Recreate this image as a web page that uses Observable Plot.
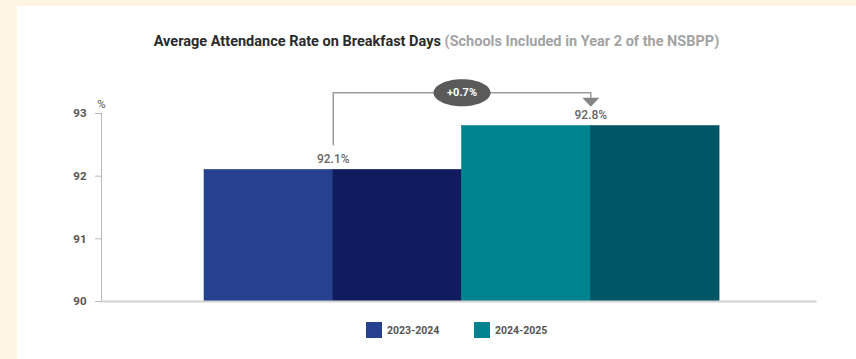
<!DOCTYPE html>
<html><head><meta charset="utf-8">
<script src="https://cdn.jsdelivr.net/npm/d3@7"></script>
<script src="https://cdn.jsdelivr.net/npm/@observablehq/plot@0.6"></script>
<style>
html,body{margin:0;padding:0}
body{background:#fef5e4;width:856px;height:359px;overflow:hidden;position:relative;font-family:Roboto,"Noto Sans",sans-serif}
#panel{position:absolute;left:17px;top:6px;right:0;bottom:0;background:#fff}
#title{position:absolute;left:17px;right:0;top:33px;text-align:center;font-size:14.5px;font-weight:700;color:#2b2b2b;white-space:nowrap}
#title span{color:#a3a3a3}
#chart{position:absolute;left:0;top:0}
#legend{position:absolute;left:366px;top:322px;display:flex;align-items:center;font-size:10.5px;font-weight:700;color:#555}
#legend .item{display:flex;align-items:center;width:108px}
#legend .sw{width:16px;height:16px;margin-right:5px}
</style>
</head><body>
<div id="panel"></div>
<div id="title">Average Attendance Rate on Breakfast Days <span>(Schools Included in Year 2 of the NSBPP)</span></div>
<div id="chart"></div>
<div id="legend"></div>
<script>
const years = ["2023-2024", "2024-2025"];
const rates = [92.1, 92.8];
const shades = [["#26418f", "#111c5f"], ["#00838e", "#005664"]];
const yTicks = [90, 91, 92, 93];
const changeLabel = "+0.7%";

// annotation levels (in % units)
const bracketY = 93.33;
const arrowY = 93.18;

const halves = years.flatMap((year, i) => shades[i].map((fill, j) => ({year, value: rates[i], fill, slot: i * 2 + j})));
const labels = years.map((year, i) => ({year, value: rates[i], slot: i * 2 + 1, text: rates[i].toFixed(1) + "%"}));

const from = labels[0], to = labels[1];
const bracket = [
  {x: from.slot, y: from.value + 0.4},
  {x: from.slot, y: bracketY},
  {x: to.slot, y: bracketY},
  {x: to.slot, y: arrowY}
];

const triangle = {draw(ctx) { ctx.moveTo(-8.5, -4.5); ctx.lineTo(8.5, -4.5); ctx.lineTo(0, 4.5); ctx.closePath(); }};
const pill = {draw(ctx) {
  const rx = 28.5, ry = 13.5, k = 0.5523;
  ctx.moveTo(-rx, 0);
  ctx.bezierCurveTo(-rx, -ry * k, -rx * k, -ry, 0, -ry);
  ctx.bezierCurveTo(rx * k, -ry, rx, -ry * k, rx, 0);
  ctx.bezierCurveTo(rx, ry * k, rx * k, ry, 0, ry);
  ctx.bezierCurveTo(-rx * k, ry, -rx, ry * k, -rx, 0);
  ctx.closePath();
}};

const chart = Plot.plot({
  width: 856,
  height: 359,
  marginLeft: 101,
  marginRight: 41,
  marginTop: 113,
  marginBottom: 58,
  x: {domain: [-0.8, 4.745], axis: null},
  y: {domain: [90, 93]},
  color: {type: "identity"},
  style: {fontFamily: "Roboto, 'Noto Sans', sans-serif", background: "transparent", overflow: "visible"},
  marks: [
    Plot.rectY(halves, {x1: "slot", x2: d => d.slot + 1, y1: 90, y2: "value", fill: "fill", stroke: "fill", strokeWidth: 0.6}),
    Plot.frame({anchor: "left", stroke: "#b8b8b8", strokeWidth: 1}),
    Plot.frame({anchor: "bottom", stroke: "#d2d2d2", strokeWidth: 2}),
    Plot.axisY(yTicks, {tickSize: 6, tickPadding: 9, stroke: "#b8b8b8", fill: "#555", fontSize: 11.5, fontWeight: 700, label: null, tickFormat: d => d}),
    Plot.text(["%"], {frameAnchor: "top-left", textAnchor: "middle", dy: -14, text: d => d, fill: "#555", fontSize: 11.5}),
    Plot.text(labels, {x: "slot", y: "value", text: "text", dy: -11, fill: "#666", fontSize: 12, fontWeight: 500}),
    Plot.line(bracket, {x: "x", y: "y", stroke: "#9a9a9a", strokeWidth: 1.5}),
    Plot.dot([to], {x: "slot", y: () => arrowY, symbol: triangle, fill: "#858585", stroke: null}),
    Plot.dot([changeLabel], {x: () => (from.slot + to.slot) / 2, y: () => bracketY, symbol: pill, fill: "#5a5a5a", stroke: null}),
    Plot.text([changeLabel], {x: () => (from.slot + to.slot) / 2, y: () => bracketY, text: d => d, fill: "#fff", fontSize: 11, fontWeight: 700})
  ]
});
document.getElementById("chart").appendChild(chart);

const legend = document.getElementById("legend");
years.forEach((year, i) => {
  const item = document.createElement("div");
  item.className = "item";
  const sw = document.createElement("div");
  sw.className = "sw";
  sw.style.background = shades[i][0];
  const lab = document.createElement("span");
  lab.textContent = year;
  item.appendChild(sw);
  item.appendChild(lab);
  legend.appendChild(item);
});
</script>
</body></html>
